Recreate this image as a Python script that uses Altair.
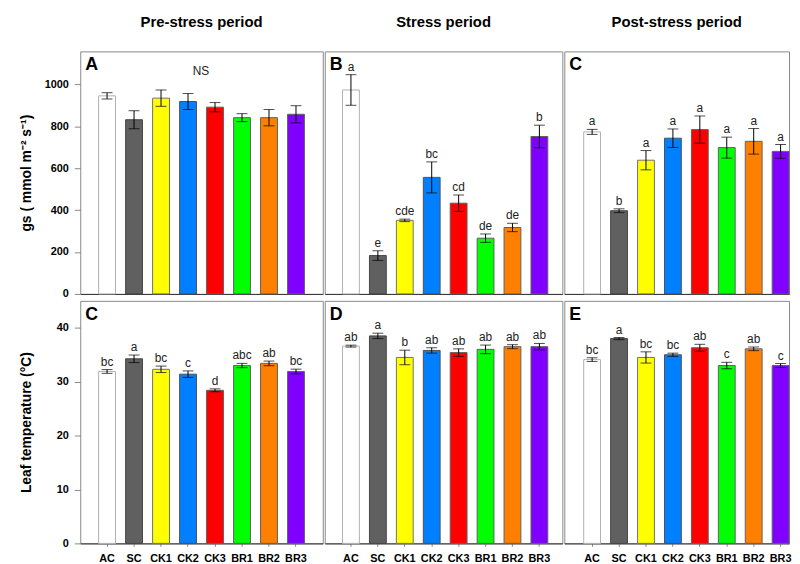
import altair as alt
import pandas as pd

trts = ["AC", "SC", "CK1", "CK2", "CK3", "BR1", "BR2", "BR3"]
fills = ["#ffffff", "#606060", "#ffff00", "#0080ff", "#ff0000", "#00ff00", "#ff8000", "#8000ff"]
strokes = ["#b0b0b0", "#454545", "#707070", "#505050", "#606060", "#606060", "#606060", "#606060"]

col_titles = ["Pre-stress period", "Stress period", "Post-stress period"]

gs_pre = [945, 831, 934, 918, 891, 841, 841, 857]
gs_pre_err = [15, 43, 39, 38, 22, 19, 39, 41]
gs_pre_let = ["", "", "", "", "", "", "", ""]
gs_str = [973, 183, 351, 556, 433, 266, 317, 751]
gs_str_err = [73, 23, 6, 74, 39, 20, 20, 54]
gs_str_let = ["a", "e", "cde", "bc", "cd", "de", "de", "b"]
gs_post = [773, 397, 638, 743, 784, 698, 728, 680]
gs_post_err = [12, 9, 46, 44, 65, 50, 61, 33]
gs_post_let = ["a", "b", "a", "a", "a", "a", "a", "a"]

lt_pre = [31.9, 34.25, 32.3, 31.4, 28.4, 33.0, 33.4, 31.9]
lt_pre_err = [0.35, 0.7, 0.6, 0.6, 0.27, 0.4, 0.43, 0.43]
lt_pre_let = ["bc", "a", "bc", "c", "d", "abc", "ab", "bc"]
lt_str = [36.6, 38.5, 34.5, 35.8, 35.4, 36.0, 36.5, 36.5]
lt_str_err = [0.18, 0.5, 1.35, 0.5, 0.7, 0.8, 0.37, 0.6]
lt_str_let = ["ab", "a", "b", "ab", "ab", "ab", "ab", "ab"]
lt_post = [34.1, 38.0, 34.5, 35.0, 36.3, 33.0, 36.1, 33.0]
lt_post_err = [0.34, 0.2, 1.04, 0.3, 0.64, 0.6, 0.34, 0.37]
lt_post_let = ["bc", "a", "bc", "bc", "ab", "c", "ab", "c"]

gs_ticks = [0, 200, 400, 600, 800, 1000]
lt_ticks = [0, 10, 20, 30, 40]
gs_title = "gs ( mmol m\u207b\u00b2 s\u207b\u00b9)"
lt_title = "Leaf temperature (\u00b0C)"

FONT = "Liberation Sans"


def panel(vals, errs, lets, label, ymax, yticks, ytitle, show_y, show_x,
          width, po, align, title=None, note=None):
    df = pd.DataFrame({"trt": trts, "mean": vals, "err": errs, "let": lets})
    df["lo"] = df["mean"] - df["err"]
    df["hi"] = df["mean"] + df["err"]
    xscale = alt.Scale(domain=trts, paddingInner=0.375, paddingOuter=po, align=align)
    if show_x:
        xaxis = alt.Axis(title=None, labelFontWeight="bold", labelFontSize=11,
                         labelColor="#000", labelAngle=0, ticks=True, tickSize=3,
                         tickColor="#888", labelPadding=6, domainColor="#333")
    else:
        xaxis = alt.Axis(title=None, labels=False, ticks=False, domainColor="#333",
                         minExtent=0, maxExtent=0)
    yscale = alt.Scale(domain=[0, ymax], nice=False, zero=True)
    if show_y:
        yaxis = alt.Axis(title=ytitle, values=yticks, format="d", grid=False, domain=False,
                         tickColor="#888", tickSize=6, labelPadding=6,
                         labelFontWeight="bold", labelFontSize=11, labelColor="#000",
                         titleFontSize=14, titleFontWeight="bold", titleColor="#000",
                         titlePadding=9, minExtent=38, maxExtent=38)
    else:
        yaxis = None
    base = alt.Chart(df)
    x = alt.X("trt:N", scale=xscale, axis=xaxis, sort=trts)
    bars = base.mark_bar(strokeWidth=1).encode(
        x=x,
        y=alt.Y("mean:Q", scale=yscale, axis=yaxis),
        fill=alt.Fill("trt:N", scale=alt.Scale(domain=trts, range=fills), legend=None),
        stroke=alt.Stroke("trt:N", scale=alt.Scale(domain=trts, range=strokes), legend=None),
    )
    rule = base.mark_rule(color="#000", strokeWidth=1).encode(
        x=x, y=alt.Y("lo:Q", scale=yscale, axis=yaxis), y2="hi:Q")
    cap_hi = base.mark_tick(color="#000", size=11, thickness=1).encode(
        x=x, y=alt.Y("hi:Q", scale=yscale, axis=yaxis))
    cap_lo = base.mark_tick(color="#000", size=11, thickness=1).encode(
        x=x, y=alt.Y("lo:Q", scale=yscale, axis=yaxis))
    txt = base.mark_text(baseline="bottom", dy=-1, fontSize=12, color="#222").encode(
        x=x, y=alt.Y("hi:Q", scale=yscale, axis=yaxis), text="let:N")
    lab = alt.Chart(pd.DataFrame({"t": [label]})).mark_text(
        align="left", baseline="top", fontSize=18, fontWeight="bold", color="#000"
    ).encode(x=alt.value(5), y=alt.value(5), text="t:N")
    layers = [bars, rule, cap_hi, cap_lo, txt, lab]
    if note:
        layers.append(alt.Chart(pd.DataFrame({"t": [note]})).mark_text(
            align="center", baseline="middle", fontSize=12, color="#222"
        ).encode(x=alt.value(122), y=alt.value(20), text="t:N"))
    props = dict(width=width, height=245)
    if title:
        props["title"] = alt.TitleParams(title, fontSize=15, fontWeight="bold",
                                         color="#000", offset=22, anchor="middle")
    return alt.layer(*layers).properties(**props)


A = panel(gs_pre, gs_pre_err, gs_pre_let, "A", 1157, gs_ticks, gs_title, True, False,
          245, 0.68, 0.5, col_titles[0], "NS")
B = panel(gs_str, gs_str_err, gs_str_let, "B", 1157, gs_ticks, gs_title, False, False,
          240, 0.6, 0.55, col_titles[1])
C = panel(gs_post, gs_post_err, gs_post_let, "C", 1157, gs_ticks, gs_title, False, False,
          227, 0.36, 1.0, col_titles[2])
C2 = panel(lt_pre, lt_pre_err, lt_pre_let, "C", 45, lt_ticks, lt_title, True, True,
           245, 0.68, 0.5)
D = panel(lt_str, lt_str_err, lt_str_let, "D", 45, lt_ticks, lt_title, False, True,
          240, 0.6, 0.55)
E = panel(lt_post, lt_post_err, lt_post_let, "E", 45, lt_ticks, lt_title, False, True,
          227, 0.36, 1.0)

top = alt.hconcat(A, B, C, spacing=0)
bottom = alt.hconcat(C2, D, E, spacing=0)
chart = alt.vconcat(top, bottom, spacing=0).properties(
    padding={"left": 11, "top": 3, "right": 0, "bottom": 0}
).configure(font=FONT).configure_view(stroke="#888", strokeWidth=1)

chart.save("out.html", embed_options={"renderer": "svg", "actions": False})
